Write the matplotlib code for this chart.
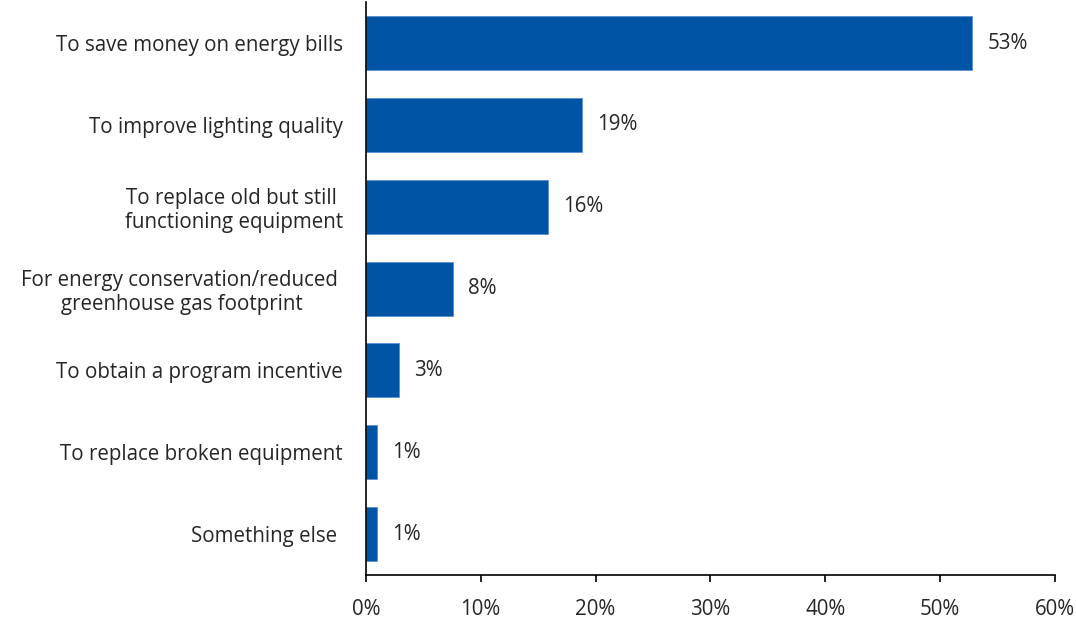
import matplotlib
matplotlib.use("Agg")
import matplotlib.pyplot as plt
from matplotlib.ticker import PercentFormatter

categories = [
    "To save money on energy bills",
    "To improve lighting quality",
    "To replace old but still \nfunctioning equipment",
    "For energy conservation/reduced \ngreenhouse gas footprint",
    "To obtain a program incentive",
    "To replace broken equipment",
    "Something else ",
]
values = [52.8, 18.8, 15.9, 7.6, 2.9, 1.0, 1.0]
value_labels = ["53%", "19%", "16%", "8%", "3%", "1%", "1%"]
x_ticks = [0, 10, 20, 30, 40, 50, 60]

plt.rcParams["font.family"] = ["Open Sans", "DejaVu Sans"]
text_color = "#262626"
bar_color = "#0054A6"
fs = 14.8

fig = plt.figure(figsize=(10.76, 6.22), dpi=100)
ax = fig.add_axes([0.340, 0.0756, 0.6405, 0.921])

y = list(range(len(categories)))
ax.barh(y, values, height=0.66, color=bar_color, edgecolor="#5b8fd0", linewidth=0.6)

for yi, v, lab in zip(y, values, value_labels):
    ax.text(v + 1.3, yi, lab, va="center", ha="left", fontsize=fs, color=text_color)

ax.set_ylim(6.5, -0.5)
ax.set_xlim(0, 60)
ax.set_xticks(x_ticks)
ax.xaxis.set_major_formatter(PercentFormatter(decimals=0))
ax.set_yticks(y)
ax.set_yticklabels(categories, fontsize=fs, color=text_color, multialignment="center")
ax.tick_params(axis="y", length=0, pad=16.5)
ax.tick_params(axis="x", direction="out", length=5, width=1.2, color="black",
               labelsize=fs, labelcolor=text_color, pad=12)

for side in ["top", "right"]:
    ax.spines[side].set_visible(False)
for side in ["left", "bottom"]:
    ax.spines[side].set_linewidth(1.2)
    ax.spines[side].set_color("black")

fig.savefig("out.png", dpi=100)
